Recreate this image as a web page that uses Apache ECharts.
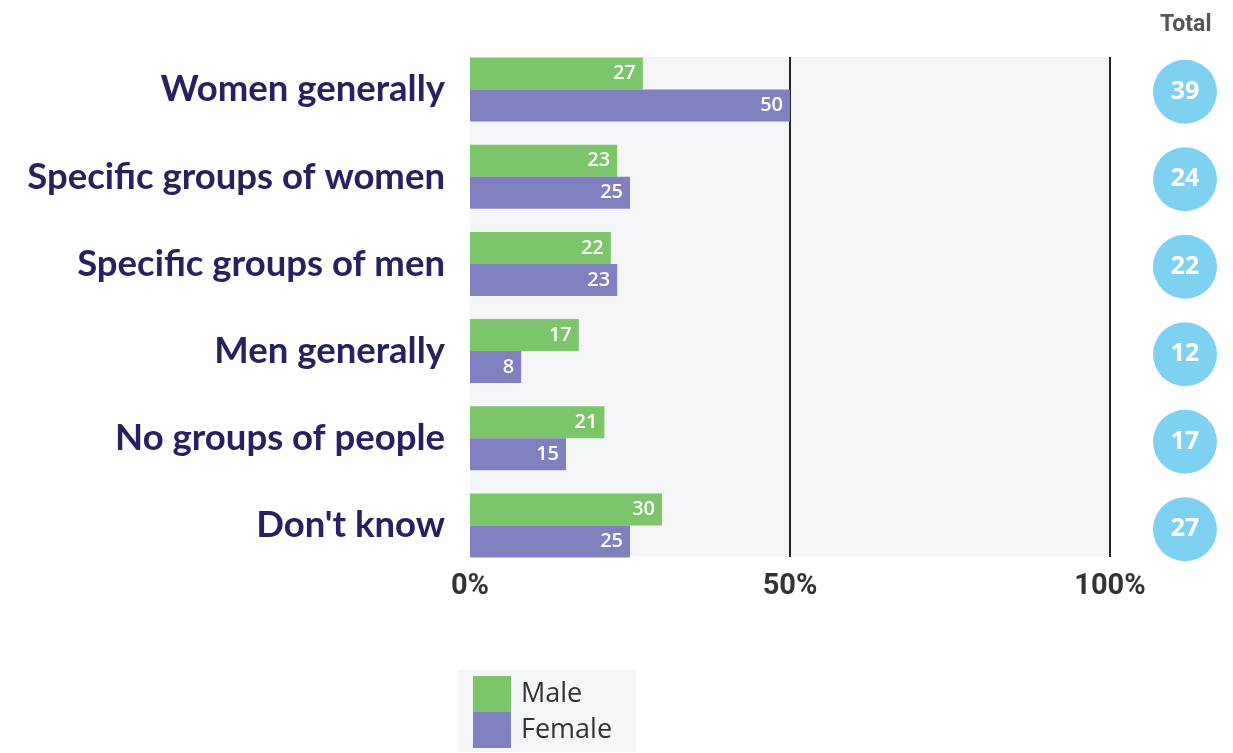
<!DOCTYPE html>
<html>
<head>
<meta charset="utf-8">
<script src="https://cdn.jsdelivr.net/npm/echarts@6/dist/echarts.min.js"></script>
<style>html,body{margin:0;padding:0;background:#fff;}#c{width:1233px;height:753px;}</style>
</head>
<body>
<div id="c"></div>
<script>
const categories = ['Women generally', 'Specific groups of women', 'Specific groups of men', 'Men generally', 'No groups of people', "Don't know"];
const maleValues = [27, 23, 22, 17, 21, 30];
const femaleValues = [50, 25, 23, 8, 15, 25];
const totalValues = [39, 24, 22, 12, 17, 27];
const xTicks = [0, 50, 100];

const chart = echarts.init(document.getElementById('c'));
const totalData = categories.map((c, i) => [0.5, c, totalValues[i]]);

chart.setOption({
  animation: false,
  title: {
    text: 'Total', left: 1155, top: 9,
    textStyle: { fontFamily: 'Roboto', fontWeight: 'bold', fontSize: 23, color: '#555' }
  },
  legend: {
    orient: 'vertical', left: 458, top: 670, bottom: 0,
    itemWidth: 38, itemHeight: 36, itemGap: 0,
    padding: [6, 24, 4, 15],
    backgroundColor: '#f4f5f7',
    icon: 'rect',
    data: ['Male', 'Female'],
    textStyle: { fontFamily: 'Open Sans', fontSize: 27, lineHeight: 36, color: '#333', padding: [0, 0, 0, 5] }
  },
  grid: [
    { left: 470, width: 640, top: 57, bottom: 196, show: true, backgroundColor: '#f4f5f7', borderWidth: 0 },
    { left: 470, width: 640, top: 46, bottom: 184 },
    { left: 1150, width: 70, top: 48, bottom: 180 }
  ],
  xAxis: [
    { gridIndex: 0, type: 'value', min: 0, max: 100, interval: 50,
      axisLine: { show: false }, axisTick: { show: false },
      splitLine: { show: true, lineStyle: { color: ['rgba(0,0,0,0)', '#222', '#222'], width: 2 } },
      axisLabel: { formatter: v => xTicks.includes(v) ? v + '%' : '', margin: 15,
        fontFamily: 'Roboto', fontWeight: 'bold', fontSize: 29, color: '#333' } },
    { gridIndex: 1, type: 'value', min: 0, max: 100, show: false },
    { gridIndex: 2, type: 'value', min: 0, max: 1, show: false }
  ],
  yAxis: [
    { gridIndex: 0, type: 'value', show: false },
    { gridIndex: 1, type: 'category', data: categories, inverse: true,
      axisLine: { show: false }, axisTick: { show: false },
      axisLabel: { margin: 25, fontFamily: 'Lato', fontWeight: 'bold', fontSize: 36.5, color: '#262262' } },
    { gridIndex: 2, type: 'category', data: categories, inverse: true, show: false }
  ],
  series: [
    { name: 'Male', type: 'bar', xAxisIndex: 1, yAxisIndex: 1, data: maleValues,
      barWidth: 32, barGap: '0%', itemStyle: { color: '#7cc56a' },
      label: { show: true, position: 'insideRight', distance: 7, color: '#fff', fontFamily: 'Open Sans', fontWeight: 600, fontSize: 20 } },
    { name: 'Female', type: 'bar', xAxisIndex: 1, yAxisIndex: 1, data: femaleValues,
      barWidth: 32, barGap: '0%', itemStyle: { color: '#8080c0' },
      label: { show: true, position: 'insideRight', distance: 7, color: '#fff', fontFamily: 'Open Sans', fontWeight: 600, fontSize: 20 } },
    { name: 'Total', type: 'scatter', xAxisIndex: 2, yAxisIndex: 2, data: totalData,
      symbolSize: 64, itemStyle: { color: '#7fd1f1', opacity: 1 },
      label: { show: true, position: 'inside', formatter: p => p.value[2], color: '#fff',
        fontFamily: 'Open Sans', fontWeight: 'bold', fontSize: 25 } }
  ]
});
</script>
</body>
</html>
